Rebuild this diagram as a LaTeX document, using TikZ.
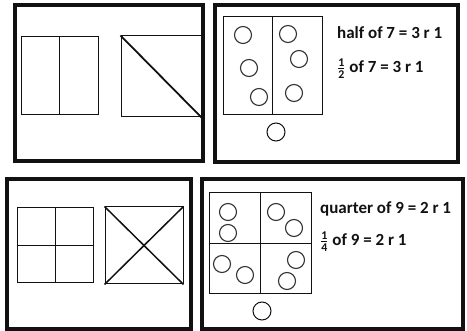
\documentclass[tikz,border=0pt]{standalone}
\usepackage{amsmath}
\usepackage{fontspec}
\setmainfont{Carlito}
\usetikzlibrary{positioning}
\definecolor{fsblack}{HTML}{111111}
\definecolor{fsgray}{HTML}{333333}

\newcommand{\sharefrac}[2]{$\frac{\text{#1}}{\text{#2}}$}

\begin{document}
\begin{tikzpicture}[
    x=1pt, y=-1pt,
    frame/.style={
        draw=fsblack, line width=4pt
    },
    sharebox/.style n args={2}{
        draw=fsblack, line width=1pt, minimum width=#1,
        minimum height=#2, inner sep=0pt
    },
    cutline/.style={
        draw=fsblack, line width=1pt
    },
    diagline/.style={
        draw=fsblack, line width=1.8pt
    },
    counter/.style={
        circle, draw=fsgray, line width=1.1pt, minimum size=17pt,
        inner sep=0pt
    },
    sumtext/.style={
        font=\bfseries\fontsize{17}{20}\selectfont, anchor=base west,
        inner sep=0pt, text=fsblack
    },
]

\useasboundingbox (0,0) rectangle (467,331);

% ===================================================================
% TOP LEFT — halves
% ===================================================================
\draw[frame] (15,5) rectangle (203,161);

\node[sharebox={77pt}{78pt}] (half-a) at (59.5,76) {};
\draw[cutline] (half-a.north) -- (half-a.south);

\node[sharebox={80pt}{81pt}] (half-b) at (161,76.5) {};
\draw[diagline] (half-b.north west) -- (half-b.south east);

% ===================================================================
% TOP RIGHT — half of 7
% ===================================================================
\draw[frame] (215,5) rectangle (458,162);

\node[sharebox={99pt}{98pt}] (seven) at (272.5,66) {};
\draw[cutline] (seven.north) -- (seven.south);

% counters in each half
\node[counter] (s1) at (243,35) {};
\node[counter] (s2) at (249,68) {};
\node[counter] (s3) at (259,97) {};
\node[counter] (s4) at (288,34) {};
\node[counter] (s5) at (299,59) {};
\node[counter] (s6) at (294,93) {};

% remainder
\node[counter, draw=fsblack, line width=1pt, minimum size=18pt] (s-left) at (276,132) {};

\node[sumtext] (sum-half) at (337,39) {half of 7 = 3 r 1};
\node[sumtext] (frac-half) at (337,73) {\sharefrac{1}{2} of 7 = 3 r 1};

% ===================================================================
% BOTTOM LEFT — quarters
% ===================================================================
\draw[frame] (7,179) rectangle (191,329);

\node[sharebox={76pt}{75pt}] (quarter-a) at (55,245.5) {};
\draw[cutline] (quarter-a.north) -- (quarter-a.south);
\draw[cutline] (quarter-a.west) -- (quarter-a.east);

\node[sharebox={78pt}{77pt}] (quarter-b) at (144,245.5) {};
\draw[diagline, line width=1.5pt] (quarter-b.north west) -- (quarter-b.south east);
\draw[diagline, line width=1.5pt] (quarter-b.south west) -- (quarter-b.north east);

% ===================================================================
% BOTTOM RIGHT — quarter of 9
% ===================================================================
\draw[frame] (202,179) rectangle (463,329);

\node[sharebox={102pt}{101pt}] (nine) at (260,243.5) {};
\draw[cutline] (nine.north) -- (nine.south);
\draw[cutline] (nine.west) -- (nine.east);

% counters in each quarter
\node[counter] (n1) at (228,212) {};
\node[counter] (n2) at (228,233) {};
\node[counter] (n3) at (276,212) {};
\node[counter] (n4) at (294,228) {};
\node[counter] (n5) at (222,264) {};
\node[counter] (n6) at (245,275) {};
\node[counter] (n7) at (296,260) {};
\node[counter] (n8) at (287,281) {};

% remainder
\node[counter, draw=fsblack, line width=1pt, minimum size=18pt] (n-left) at (262,311) {};

\node[sumtext] (sum-quarter) at (320,214) {quarter of 9 = 2 r 1};
\node[sumtext] (frac-quarter) at (320,246) {\sharefrac{1}{4} of 9 = 2 r 1};

\end{tikzpicture}
\end{document}
